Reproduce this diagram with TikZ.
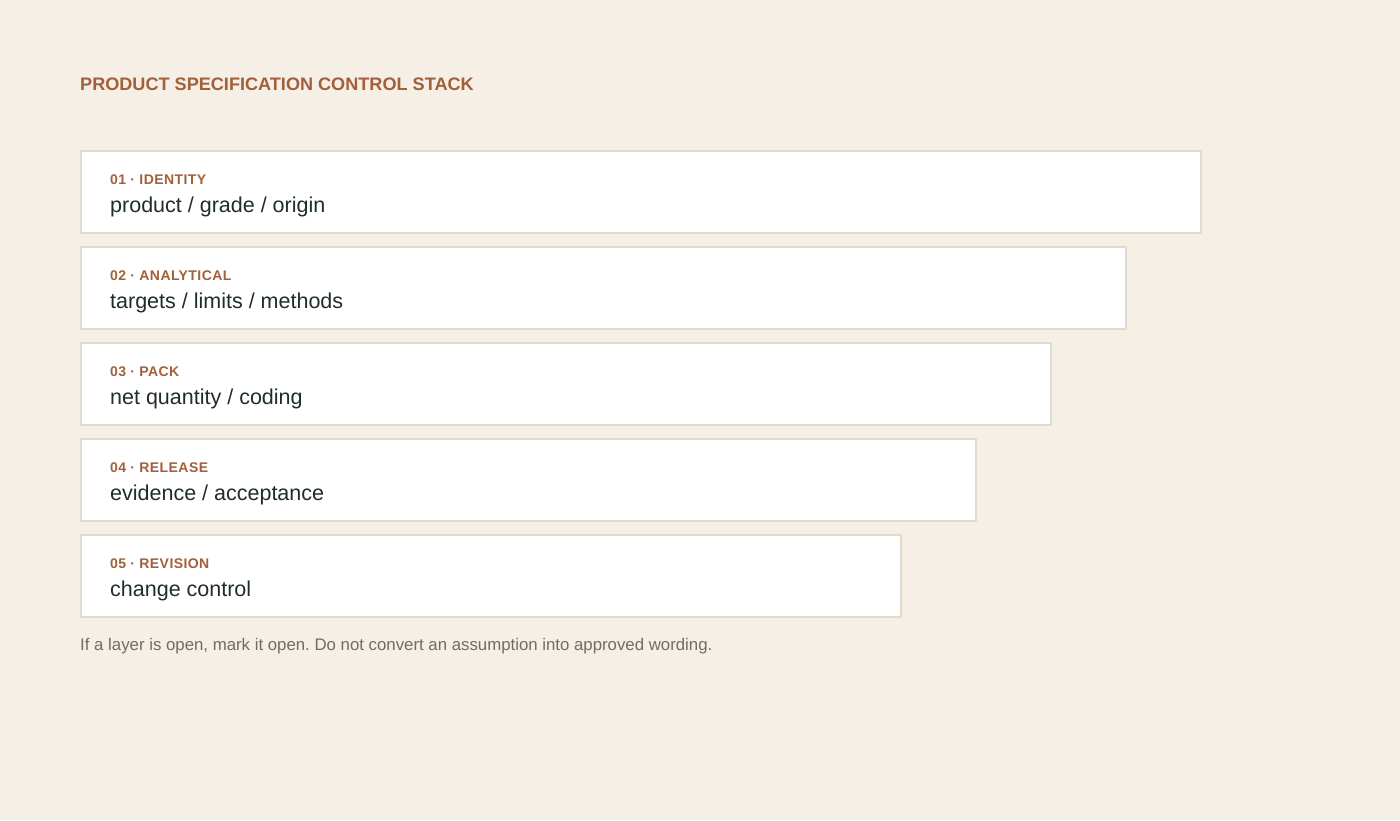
\documentclass[tikz,border=0pt]{standalone}
\usepackage{fontspec}
\setmainfont{Liberation Sans}
\usetikzlibrary{positioning}
\definecolor{paper}{HTML}{F5EFE6}
\definecolor{rust}{HTML}{A2603A}
\definecolor{ink}{HTML}{1F2E2A}
\definecolor{edge}{HTML}{DFDBD1}
\definecolor{note}{HTML}{6E6D66}
\tikzset{
    layerBox/.style={draw=edge, fill=white, line width=1.5pt, anchor=north west, inner sep=0pt, minimum height=82pt},
    layerTag/.style={anchor=base west, inner sep=0pt, text=rust, font=\bfseries\fontsize{14}{16}\selectfont\addfontfeatures{LetterSpace=3}},
    layerText/.style={anchor=base west, inner sep=0pt, text=ink, font=\fontsize{21.5}{25}\selectfont},
    titleText/.style={anchor=base west, inner sep=0pt, text=rust, font=\bfseries\fontsize{18.1}{21}\selectfont},
    noteText/.style={anchor=base west, inner sep=0pt, text=note, font=\fontsize{16.8}{20}\selectfont},
}
\newcommand{\drawLayer}[5]{
    % box, then tag and line of text inside it
    \node[layerBox, minimum width=#3pt] (#1) at (80,#2) {};
    \node[layerTag] (#1tag) at (110,#2+34) {#4};
    \node[layerText] (#1txt) at (110,#2+62) {#5};
}

\begin{document}
\frenchspacing
\begin{tikzpicture}[x=1pt, y=-1pt]

        \fill[paper] (0,0) rectangle (1400,820);
        \useasboundingbox (0,0) rectangle (1400,820);

        \node[titleText] (title) at (80,90) {PRODUCT SPECIFICATION CONTROL STACK};

        \drawLayer{identity}{150}{1120}{01 · IDENTITY}{product / grade / origin}
        \drawLayer{analytical}{246}{1045}{02 · ANALYTICAL}{targets / limits / methods}
        \drawLayer{pack}{342}{970}{03 · PACK}{net quantity / coding}
        \drawLayer{release}{438}{895}{04 · RELEASE}{evidence / acceptance}
        \drawLayer{revision}{534}{820}{05 · REVISION}{change control}

        \node[noteText] (note) at (80,650) {If a layer is open, mark it open. Do not convert an assumption into approved wording.};

    \end{tikzpicture}
\end{document}
